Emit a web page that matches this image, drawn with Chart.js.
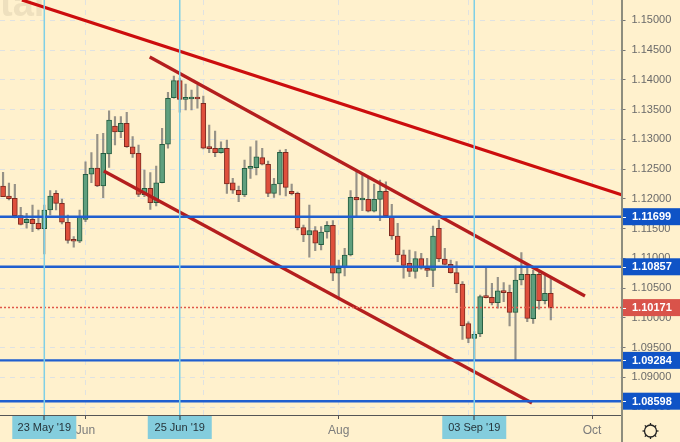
<!DOCTYPE html>
<html>
<head>
<meta charset="utf-8">
<style>
  html, body { margin: 0; padding: 0; background: #fff1cd; }
  canvas { display: block; }
</style>
<script src="https://cdn.jsdelivr.net/npm/chart.js@4/dist/chart.umd.js"></script>
</head>
<body>
<canvas id="chart" width="680" height="442"></canvas>
<script>
// EURUSD daily
const opens = [1.12215,1.12047,1.12008,1.11716,1.11598,1.11655,1.11588,1.11497,1.11812,1.12092,
  1.11924,1.11605,1.11302,1.11286,1.11655,1.12412,1.12517,1.12215,1.12753,1.13223,
  1.13128,1.13269,1.12875,1.12765,1.12069,1.12176,1.11934,1.12270,1.12916,1.13699,
  1.13985,1.13672,1.13677,1.13689,1.13605,1.12854,1.12849,1.12775,1.12849,1.12270,
  1.12143,1.12064,1.12512,1.12523,1.12691,1.12580,1.12092,1.12249,1.12781,1.12126,
  1.12092,1.11514,1.11391,1.11464,1.11228,1.11442,1.11554,1.10748,1.10849,1.11055,
  1.12025,1.11980,1.11991,1.11790,1.11991,1.12126,1.11699,1.11375,1.11060,1.10916,
  1.10781,1.10993,1.10832,1.10798,1.11504,1.10988,1.10899,1.10758,1.10568,1.09901,
  1.09655,1.09728,1.10355,1.10344,1.10254,1.10455,1.10428,1.10092,1.10635,1.10731,
  1.09985,1.10731,1.10287,1.10412];
const highs = [1.12445,1.12265,1.12244,1.11857,1.11756,1.11896,1.11812,1.11896,1.12136,1.12136,
  1.11996,1.11728,1.11363,1.11812,1.12623,1.12775,1.13084,1.13101,1.13480,1.13380,
  1.13380,1.13454,1.13044,1.12904,1.12484,1.12439,1.12551,1.13185,1.13790,1.14064,
  1.14030,1.13929,1.13828,1.13912,1.13728,1.13240,1.13139,1.12959,1.12988,1.12344,
  1.12215,1.12652,1.12875,1.12976,1.12849,1.12635,1.12344,1.12820,1.12832,1.12249,
  1.12114,1.11559,1.11896,1.11531,1.11531,1.11615,1.11632,1.10971,1.11168,1.12136,
  1.12455,1.12400,1.12344,1.12249,1.12316,1.12287,1.11907,1.11588,1.11139,1.11139,
  1.11111,1.11084,1.11000,1.11543,1.11644,1.11168,1.10971,1.10943,1.10607,1.09934,
  1.09766,1.10383,1.10832,1.10580,1.10681,1.10590,1.10551,1.10870,1.11094,1.10832,
  1.10803,1.10775,1.10719,1.10664];
const lows = [1.12035,1.11980,1.11677,1.11559,1.11504,1.11447,1.11475,1.11072,1.11728,1.11812,
  1.11576,1.11252,1.11185,1.11262,1.11615,1.12270,1.12203,1.12018,1.12529,1.12904,
  1.13027,1.12865,1.12697,1.12035,1.12035,1.11823,1.11879,1.12265,1.12849,1.13689,
  1.13454,1.13492,1.13492,1.13521,1.12837,1.12775,1.12707,1.12765,1.12092,1.12092,
  1.11951,1.12035,1.12344,1.12400,1.12568,1.12035,1.12025,1.12064,1.12047,1.12064,
  1.11475,1.11279,1.11017,1.11128,1.11139,1.11336,1.10623,1.10355,1.10702,1.11040,
  1.11699,1.11800,1.11780,1.11778,1.11632,1.11700,1.11319,1.10943,1.10664,1.10691,
  1.10664,1.10815,1.10691,1.10523,1.10943,1.10887,1.10748,1.10422,1.09638,1.09581,
  1.09279,1.09682,1.10333,1.10215,1.10160,1.10270,1.09862,1.09279,1.10551,1.09934,
  1.09907,1.10143,1.10232,1.09963];
const closes = [1.12035,1.12002,1.11716,1.11571,1.11655,1.11581,1.11497,1.11812,1.12047,1.11924,
  1.11605,1.11302,1.11286,1.11699,1.12412,1.12517,1.12215,1.12765,1.13324,1.13123,
  1.13269,1.12875,1.12753,1.12075,1.12176,1.11934,1.12270,1.12916,1.13689,1.13985,
  1.13672,1.13689,1.13689,1.13677,1.12849,1.12842,1.12775,1.12849,1.12249,1.12143,
  1.12069,1.12512,1.12529,1.12707,1.12580,1.12092,1.12249,1.12781,1.12193,1.12086,
  1.11514,1.11391,1.11464,1.11252,1.11442,1.11554,1.10748,1.10832,1.11055,1.12025,
  1.11980,1.11991,1.11790,1.11991,1.12126,1.11711,1.11375,1.11055,1.10882,1.10781,
  1.10993,1.10832,1.10798,1.11375,1.10988,1.10896,1.10758,1.10568,1.09867,1.09655,
  1.09723,1.10355,1.10338,1.10249,1.10455,1.10422,1.10092,1.10635,1.10731,1.09991,
  1.10731,1.10287,1.10412,1.10171];

const priceTicks = [1.085,1.09,1.095,1.10,1.105,1.11,1.115,1.12,1.125,1.13,1.135,1.14,1.145,1.15];
const monthTicks = [14, 34, 57, 79, 100];
const monthLabels = ['Jun', '', 'Aug', '', 'Oct'];

const levels = [1.11699, 1.10857, 1.09284, 1.08598];
const lastPrice = 1.10171;
const crossIndex = [7, 30, 80];
const crossLabels = ["23 May '19", "25 Jun '19", "03 Sep '19"];

// trend lines: [index, price] pairs
const trendTop = [[3.2, 1.15341], [105, 1.12069]];
const trendUpper = [[24.9, 1.14383], [98.8, 1.10366]];
const trendLower = [[17.1, 1.12467], [89.8, 1.08568]];

const xMin = -0.52, xMax = 105;
const yMin = 1.08366, yMax = 1.15341;

const indexes = opens.map((o, i) => i);
const isUp = i => closes[i] >= opens[i];

function pairs(list) {
  return list.map(p => ({ x: p[0], y: p[1] }));
}

function lineSet(points, color, width, dash) {
  return {
    type: 'line',
    data: points,
    borderColor: color,
    borderWidth: width,
    borderDash: dash || [],
    pointRadius: 0,
    tension: 0,
    order: 1
  };
}

const sets = [];
sets.push({
  type: 'bar',
  data: indexes.map(i => ({ x: i, y: [lows[i], highs[i]] })),
  backgroundColor: 'rgba(105,105,105,0.7)',
  borderWidth: 0,
  barThickness: 1.5,
  grouped: false,
  order: 5
});
sets.push({
  type: 'bar',
  data: indexes.map(i => ({ x: i, y: [opens[i], closes[i]] })),
  backgroundColor: indexes.map(i => isUp(i) ? '#5f9f7e' : '#df4f3c'),
  borderColor: indexes.map(i => isUp(i) ? '#235c40' : '#7d2a20'),
  borderWidth: 1,
  borderSkipped: false,
  barThickness: 5,
  minBarLength: 2,
  grouped: false,
  order: 4
});
crossIndex.forEach(x => {
  sets.push(lineSet([{ x: x, y: yMin }, { x: x, y: yMax }], '#7fd0e6', 1.5));
});
sets.push(lineSet([{ x: xMin, y: lastPrice }, { x: xMax, y: lastPrice }], '#e0574a', 1.5, [2, 2]));
levels.forEach(v => {
  sets.push(lineSet([{ x: xMin, y: v }, { x: xMax, y: v }], '#1f5fcf', 2.4));
});
sets.push(lineSet(pairs(trendTop), '#cc0d0d', 3.2));
sets.push(lineSet(pairs(trendUpper), '#b41e1e', 3.2));
sets.push(lineSet(pairs(trendLower), '#b41e1e', 3.2));

function pill(ctx, x, y, w, h, color) {
  ctx.fillStyle = color;
  ctx.fillRect(x, y, w, h);
}

// chart.js keeps room for half a tick label at the ends, the reference does not
function noPadding(scale) {
  scale.paddingTop = 0;
  scale.paddingBottom = 0;
  scale.paddingLeft = 0;
  scale.paddingRight = 0;
}

const watermark = {
  id: 'watermark',
  beforeDatasetsDraw(chart) {
    const ctx = chart.ctx;
    ctx.save();
    ctx.fillStyle = 'rgba(170,160,130,0.2)';
    ctx.font = 'bold 38px "Liberation Sans"';
    ctx.textBaseline = 'alphabetic';
    ctx.fillText('tal', 0, 16);
    ctx.restore();
  }
};

const overlay = {
  id: 'overlay',
  afterDraw(chart) {
    const ctx = chart.ctx;
    const xs = chart.scales.x;
    const ys = chart.scales.y;
    ctx.save();

    // price axis rule runs down to the bottom of the picture
    ctx.strokeStyle = '#8d8d7e';
    ctx.lineWidth = 2;
    ctx.beginPath();
    ctx.moveTo(622, 0);
    ctx.lineTo(622, 442);
    ctx.stroke();

    ctx.font = 'bold 11px "Liberation Sans"';
    ctx.textBaseline = 'middle';
    ctx.textAlign = 'left';
    levels.concat([lastPrice]).forEach(v => {
      const y = ys.getPixelForValue(v);
      pill(ctx, 623, y - 8.5, 57, 17, v === lastPrice ? '#d9534a' : '#0f53c6');
      ctx.fillStyle = '#ffffff';
      ctx.fillRect(623, Math.round(y), 3, 1);
      ctx.fillText(v.toFixed(5), 632, y + 0.5);
    });

    ctx.font = '11px "Liberation Sans"';
    ctx.textAlign = 'center';
    crossIndex.forEach((idx, i) => {
      const x = xs.getPixelForValue(idx);
      pill(ctx, x - 32, 416, 64, 23, '#84cddd');
      ctx.fillStyle = '#26343a';
      ctx.fillRect(Math.round(x) - 0.5, 416, 1, 4);
      ctx.fillText(crossLabels[i], x, 427.5);
    });

    // settings gear
    ctx.strokeStyle = '#222222';
    ctx.lineWidth = 1.3;
    ctx.beginPath();
    ctx.arc(650.5, 431, 6, 0, Math.PI * 2);
    ctx.stroke();
    for (let k = 0; k < 8; k++) {
      const a = k * Math.PI / 4;
      ctx.beginPath();
      ctx.moveTo(650.5 + Math.cos(a) * 6, 431 + Math.sin(a) * 6);
      ctx.lineTo(650.5 + Math.cos(a) * 8, 431 + Math.sin(a) * 8);
      ctx.stroke();
    }
    ctx.restore();
  }
};

new Chart(document.getElementById('chart').getContext('2d'), {
  type: 'bar',
  data: { datasets: sets },
  plugins: [watermark, overlay],
  options: {
    responsive: false,
    animation: false,
    devicePixelRatio: 1,
    layout: { padding: 0 },
    plugins: { legend: { display: false }, tooltip: { enabled: false } },
    events: [],
    scales: {
      x: {
        type: 'linear',
        offset: false,
        min: xMin,
        max: xMax,
        afterBuildTicks(scale) {
          scale.ticks = monthTicks.map(v => ({ value: v }));
        },
        afterFit(scale) {
          scale.height = 27;
          noPadding(scale);
        },
        grid: { offset: false, color: '#dfe2e2', tickColor: '#555555', tickLength: 4 },
        border: { color: '#555555', dash: [5, 5] },
        ticks: {
          autoSkip: false,
          maxRotation: 0,
          padding: 4,
          color: '#7c7c7c',
          font: { family: '"Liberation Sans"', size: 12 },
          callback: v => monthLabels[monthTicks.indexOf(v)]
        }
      },
      y: {
        position: 'right',
        min: yMin,
        max: yMax,
        afterBuildTicks(scale) {
          scale.ticks = priceTicks.map(v => ({ value: v }));
        },
        afterFit(scale) {
          scale.width = 58.5;
          noPadding(scale);
        },
        grid: { color: '#dfe2e2', tickColor: '#777777', tickLength: 4 },
        border: { color: '#8d8d7e', dash: [5, 5] },
        ticks: {
          autoSkip: false,
          padding: 6,
          color: '#6a6a6a',
          font: { family: '"Liberation Sans"', size: 11 },
          callback: v => v.toFixed(5)
        }
      }
    }
  }
});
</script>
</body>
</html>
